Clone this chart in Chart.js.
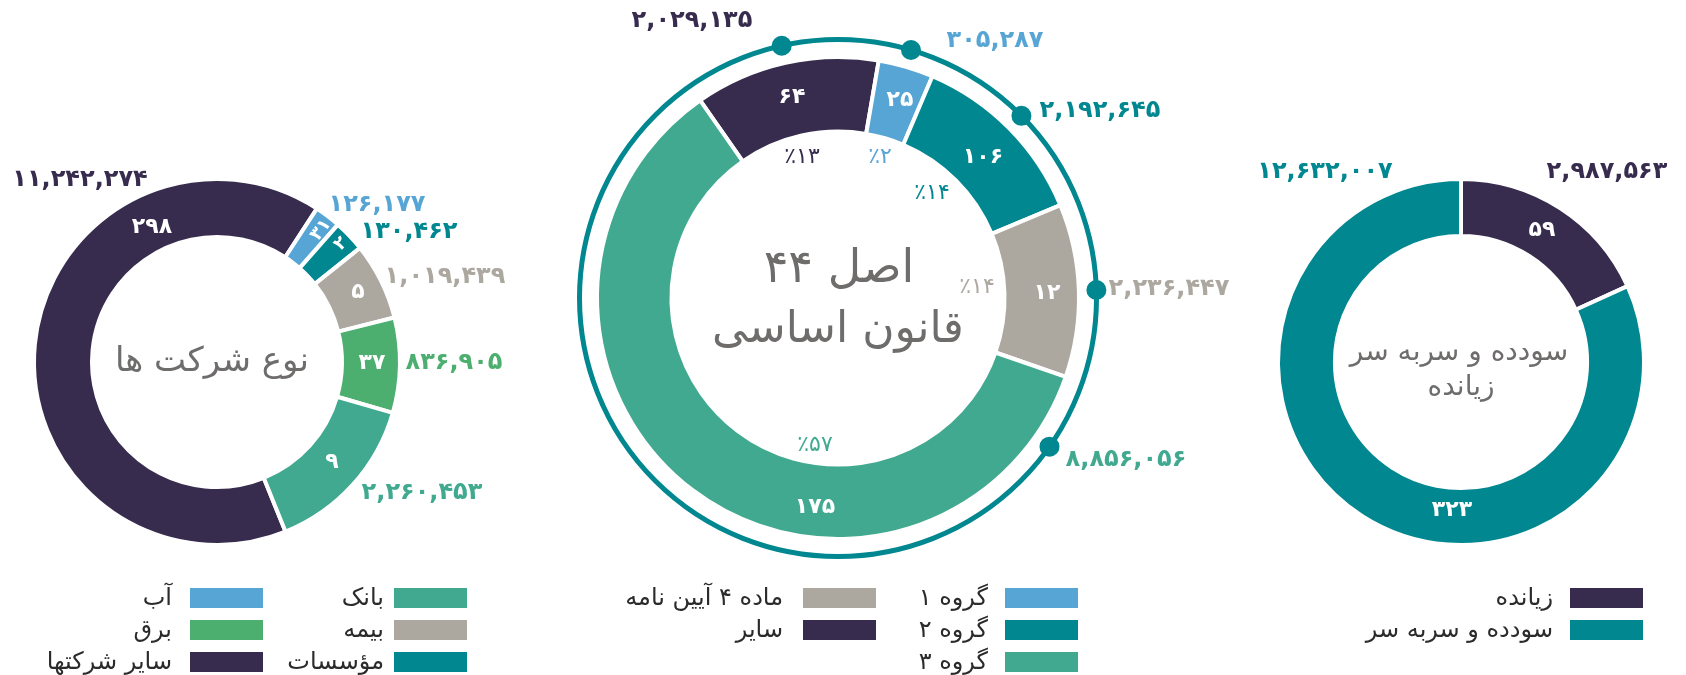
<!DOCTYPE html>
<html lang="fa">
<head>
<meta charset="utf-8">
<script src="https://cdn.jsdelivr.net/npm/chart.js@4.4.1/dist/chart.umd.min.js"></script>
<style>
html,body{margin:0;padding:0;background:#fff;}
#wrap{position:relative;width:1686px;height:675px;overflow:hidden;background:#fff;}
#wrap canvas{position:absolute;left:0;top:0;}
.sw{position:absolute;width:73px;height:20px;}
.lt{position:absolute;direction:rtl;white-space:nowrap;font-family:"DejaVu Sans",sans-serif;font-size:24px;line-height:30px;color:#2b2b2b;}
</style>
</head>
<body>
<div id="wrap">
  <canvas id="c1" width="1686" height="675"></canvas>
  <canvas id="c2" width="1686" height="675"></canvas>
  <canvas id="c3" width="1686" height="675"></canvas>
</div>
<script>
// ---------- DATA ----------
// Chart 1: company types (نوع شرکت ها)
const companyLabels  = ['سایر شرکتها', 'آب', 'مؤسسات', 'بیمه', 'برق', 'بانک'];
const companyCounts  = [298, 31, 2, 5, 37, 9];
const companyAmounts = [11242274, 126177, 130462, 1019439, 836905, 2260453];
const companyArcShare = [65.3, 2.3, 2.8, 6.8, 8.4, 14.4];   // share of ring as drawn (%)

// Chart 2: principle 44 groups (اصل ۴۴ قانون اساسی)
const groupLabels   = ['سایر', 'گروه ۱', 'گروه ۲', 'ماده ۴ آیین نامه', 'گروه ۳'];
const groupCounts   = [64, 25, 106, 12, 175];
const groupAmounts  = [2029135, 305287, 2192645, 2236447, 8856056];
const groupPercents = [13, 2, 14, 14, 57];
const groupArcShare = [12.4, 3.7, 12.3, 11.6, 60.0];

// Chart 3: profit / loss (سودده و سربه سر / زیانده)
const resultLabels   = ['زیانده', 'سودده و سربه سر'];
const resultCounts   = [59, 323];
const resultAmounts  = [2987563, 12632007];
const resultArcShare = [18.2, 81.8];

// ---------- STYLE ----------
const COL = {dark:'#372c4e', blue:'#57a5d5', teal:'#00878f', gray:'#aca79f', green:'#4caf6f', sea:'#40a98f'};
const companyColors = [COL.dark, COL.blue, COL.teal, COL.gray, COL.green, COL.sea];
const groupColors   = [COL.dark, COL.blue, COL.teal, COL.gray, COL.sea];
const resultColors  = [COL.dark, COL.teal];
const FONT = '"DejaVu Sans", sans-serif';
const TITLE = '#6f6c6c';
const W = 1686, H = 675;

const fa = n => String(n).replace(/\B(?=(\d{3})+(?!\d))/g, ',').replace(/\d/g, d => '۰۱۲۳۴۵۶۷۸۹'[d]);

function txt(ctx, s, x, y, o) {
  ctx.save();
  ctx.font = (o.weight || 'normal') + ' ' + o.size + 'px ' + FONT;
  ctx.fillStyle = o.color;
  ctx.textAlign = o.align || 'center';
  ctx.textBaseline = 'middle';
  ctx.direction = o.dir || 'ltr';
  if (o.ls) ctx.letterSpacing = o.ls + 'px';
  ctx.translate(x, y);
  if (o.rot) ctx.rotate(o.rot);
  ctx.fillText(s, 0, 0);
  ctx.restore();
}

function makeDonut(id, labels, values, colors, center, radius, cutout, rotation, draw) {
  const pad = {left: center[0] - radius, right: W - center[0] - radius,
               top: center[1] - radius, bottom: H - center[1] - radius};
  return new Chart(document.getElementById(id), {
    type: 'doughnut',
    data: {labels, datasets: [{data: values, backgroundColor: colors,
           borderColor: '#ffffff', borderWidth: 4, hoverOffset: 0}]},
    options: {responsive: false, animation: false, events: [],
      rotation, cutout, radius, layout: {padding: pad},
      plugins: {legend: {display: false}, tooltip: {enabled: false}}},
    plugins: [{id: 'lbl' + id, afterDatasetsDraw: draw}]
  });
}

const AMT = {size: 24, weight: 'bold', ls: 1};
const CNT = {size: 22, weight: 'bold', color: '#ffffff', ls: 1};

// ---------- CHART 1 ----------
makeDonut('c1', companyLabels, companyArcShare, companyColors, [217, 362], 183, '68.3%', 158, chart => {
  const ctx = chart.ctx, arcs = chart.getDatasetMeta(0).data;
  const cx = arcs[0].x, cy = arcs[0].y;
  const amtPos = [[-137, -182], [160, -157], [192, -130], [228, -85], [237, 1], [205, 131]];
  companyAmounts.forEach((v, i) => txt(ctx, fa(v), cx + amtPos[i][0], cy + amtPos[i][1], {...AMT, color: companyColors[i]}));
  const cntPos = [[-65, -135], [104, -132], [124, -118], [141, -70], [155, 1], [115, 100]];
  companyCounts.forEach((v, i) => {
    const a = arcs[i];
    const rot = (i === 1 || i === 2) ? (a.startAngle + a.endAngle) / 2 : 0;
    txt(ctx, fa(v), cx + cntPos[i][0], cy + cntPos[i][1], {...CNT, size: (i === 1 || i === 2) ? 18 : 22, rot});
  });
  txt(ctx, 'نوع شرکت ها', cx - 5, cy, {size: 34, color: TITLE, dir: 'rtl'});
});

// ---------- CHART 2 ----------
makeDonut('c2', groupLabels, groupArcShare, groupColors, [838, 298], 241, '69.1%', -34.9, chart => {
  const ctx = chart.ctx, arcs = chart.getDatasetMeta(0).data;
  const cx = arcs[0].x, cy = arcs[0].y;
  const ringR = arcs[0].outerRadius + 17.5;
  ctx.save();
  ctx.strokeStyle = COL.teal; ctx.lineWidth = 5;
  ctx.beginPath(); ctx.arc(cx, cy, ringR, 0, Math.PI * 2); ctx.stroke();
  ctx.fillStyle = COL.teal;
  arcs.forEach((a, i) => {
    const t = i === arcs.length - 1 ? a.startAngle + 16 * Math.PI / 180 : (a.startAngle + a.endAngle) / 2;
    ctx.beginPath(); ctx.arc(cx + ringR * Math.cos(t), cy + ringR * Math.sin(t), 10, 0, Math.PI * 2); ctx.fill();
  });
  ctx.restore();
  const amtPos = [[-146, -277], [157, -257], [262, -187], [331, -9], [288, 162]];
  groupAmounts.forEach((v, i) => txt(ctx, fa(v), cx + amtPos[i][0], cy + amtPos[i][1], {...AMT, color: groupColors[i]}));
  const cntPos = [[-46, -201], [62, -198], [145, -141], [209, -5], [-23, 209]];
  groupCounts.forEach((v, i) => txt(ctx, fa(v), cx + cntPos[i][0], cy + cntPos[i][1], CNT));
  const pctPos = [[-36, -141], [42, -141], [94, -105], [139, -11], [-23, 147]];
  groupPercents.forEach((v, i) => txt(ctx, '٪' + fa(v), cx + pctPos[i][0], cy + pctPos[i][1], {size: 22, color: groupColors[i], ls: 1}));
  txt(ctx, 'اصل ۴۴', cx + 1, cy - 28, {size: 46, color: TITLE, dir: 'rtl'});
  txt(ctx, 'قانون اساسی', cx, cy + 33, {size: 44, color: TITLE, dir: 'rtl'});
});

// ---------- CHART 3 ----------
makeDonut('c3', resultLabels, resultArcShare, resultColors, [1461, 362], 183, '68.9%', 0, chart => {
  const ctx = chart.ctx, arcs = chart.getDatasetMeta(0).data;
  const cx = arcs[0].x, cy = arcs[0].y;
  const amtPos = [[146, -190], [-136, -190]];
  resultAmounts.forEach((v, i) => txt(ctx, fa(v), cx + amtPos[i][0], cy + amtPos[i][1], {...AMT, color: resultColors[i]}));
  const cntPos = [[81, -132], [-9, 148]];
  resultCounts.forEach((v, i) => txt(ctx, fa(v), cx + cntPos[i][0], cy + cntPos[i][1], CNT));
  txt(ctx, 'سودده و سربه سر', cx - 2, cy - 9, {size: 28, color: TITLE, dir: 'rtl'});
  txt(ctx, 'زیانده', cx, cy + 26, {size: 28, color: TITLE, dir: 'rtl'});
});

// ---------- LEGENDS (HTML, built from the data arrays) ----------
const rows = [597.5, 630, 662];
function legend(labels, colors, idx, swatchX, textRight) {
  const wrap = document.getElementById('wrap');
  idx.forEach((k, r) => {
    const sw = document.createElement('div');
    sw.className = 'sw';
    sw.style.left = swatchX + 'px'; sw.style.top = (rows[r] - 10) + 'px';
    sw.style.background = colors[k];
    wrap.appendChild(sw);
    const t = document.createElement('div');
    t.className = 'lt';
    t.textContent = labels[k];
    t.style.right = (W - textRight) + 'px'; t.style.top = (rows[r] - 16) + 'px';
    wrap.appendChild(t);
  });
}
legend(companyLabels, companyColors, [5, 3, 2], 394, 384);
legend(companyLabels, companyColors, [1, 4, 0], 190, 172);
legend(groupLabels, groupColors, [1, 2, 4], 1005, 988);
legend(groupLabels, groupColors, [3, 0], 803, 783);
legend(resultLabels, resultColors, [0, 1], 1570, 1553);
</script>
</body>
</html>
